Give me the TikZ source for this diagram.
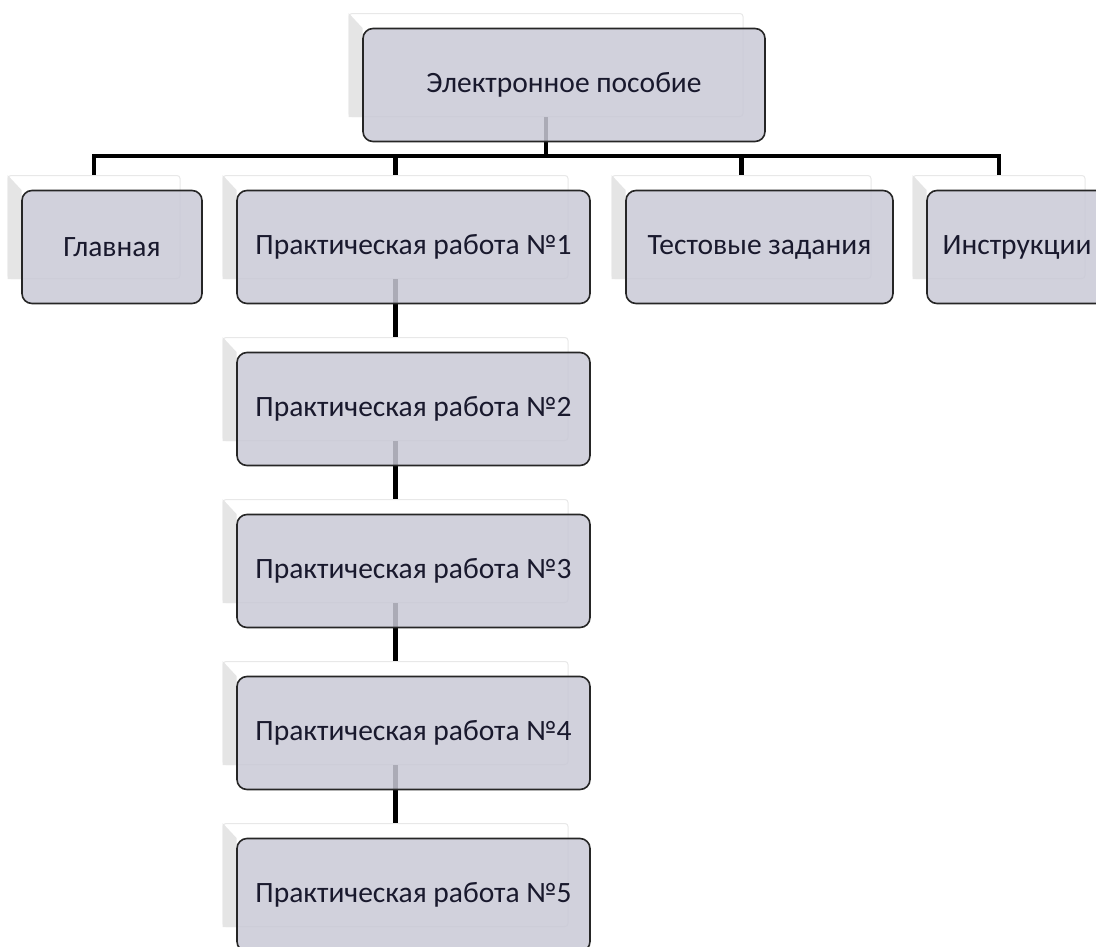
\documentclass[tikz,border=0pt]{standalone}
\usepackage{fontspec}
\setmainfont{Carlito}
\usetikzlibrary{calc,positioning}
\definecolor{boxfill}{RGB}{201,201,214}
\definecolor{boxtext}{RGB}{25,25,45}
\tikzset{
	front/.style={draw=black!85, line width=1.6pt, rounded corners=10pt, fill=boxfill, fill opacity=.85, text opacity=1, text=boxtext, font=\fontsize{29.5}{35}\selectfont, inner sep=0pt},
	back/.style={draw=gray!18, line width=1pt, rounded corners=3pt, fill=white, inner sep=0pt},
	bevel/.style={fill=gray!20},
	link/.style={line width=4.5pt},
}
\begin{document}
\begin{tikzpicture}[x=1pt, y=-1pt]
		\useasboundingbox (0,0) rectangle (1096,946);
		\def\boxes{top/564/85/402/Электронное пособие,
			gl/112/247/180/Главная,
			p1/413.5/247/353/Практическая работа №1,
			ts/759.5/247/267/Тестовые задания,
			in/1017/247/180/Инструкции,
			p2/413.5/409/353/Практическая работа №2,
			p3/413.5/571/353/Практическая работа №3,
			p4/413.5/733/353/Практическая работа №4,
			p5/413.5/895/353/Практическая работа №5}
	
		% back panels
		\foreach \n/\x/\y/\w/\t in \boxes{
			\node[back, minimum width={(\w-8)*1pt}, minimum height=103pt] at (\x-18,\y-20) (b-\n) {};
			\fill[bevel] (b-\n.north west) -- ($(b-\n.north west)+(14,15)$) -- ($(b-\n.south west)+(14,0)$) -- (b-\n.south west) -- cycle;
		}
	
		% connectors
		\coordinate (bus) at (0,156);
		\foreach \c in {gl,p1,ts,in}{
			\draw[link] (b-top.south) -- (b-top.south |- bus) -| (b-\c.north);
		}
		\foreach \a/\b in {p1/p2,p2/p3,p3/p4,p4/p5}{
			\draw[link] (b-\a.south) -- (b-\b.north);
		}
	
		% front boxes
		\foreach \n/\x/\y/\w/\t in \boxes{
			\node[front, minimum width=\w pt, minimum height=113pt] at (\x,\y) (\n) {\t};
		}
	
		\end{tikzpicture}
\end{document}
